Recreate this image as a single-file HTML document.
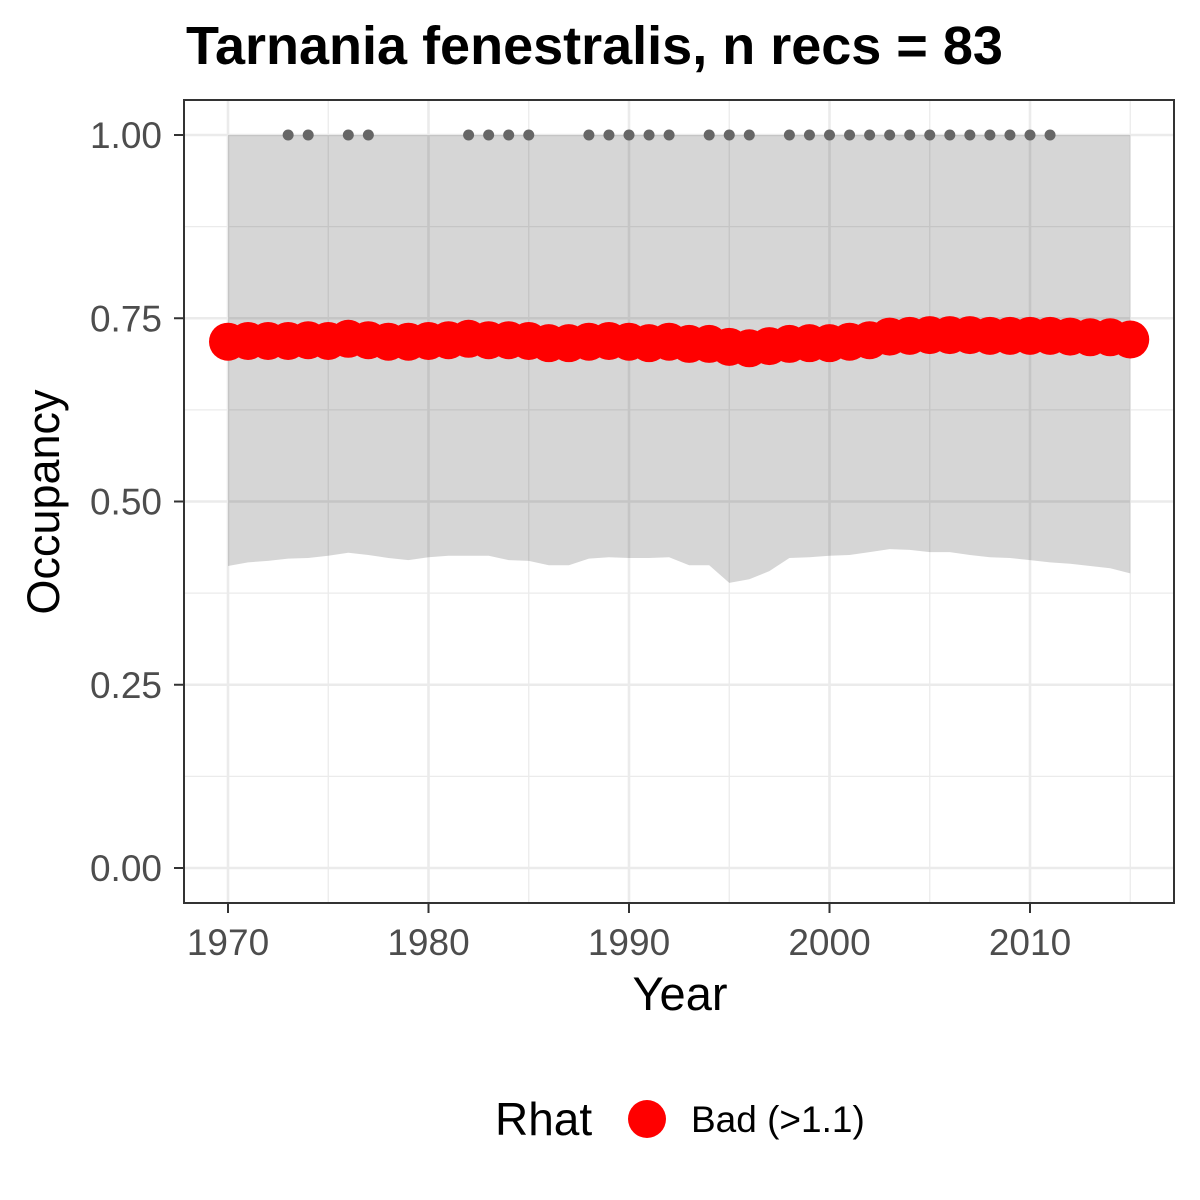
<!DOCTYPE html>
<html><head><meta charset="utf-8"><style>
html,body{margin:0;padding:0;background:#fff;width:1200px;height:1200px;overflow:hidden}
svg text{font-family:"Liberation Sans",Arial,sans-serif}
</style></head><body>
<svg id="chart" width="1200" height="1200" viewBox="0 0 1200 1200" xmlns="http://www.w3.org/2000/svg">
<defs><clipPath id="pc"><rect x="184" y="100" width="990" height="803"/></clipPath></defs>
<rect width="1200" height="1200" fill="#fff"/>
<text x="186" y="64" font-size="54" font-weight="bold" fill="#000">Tarnania fenestralis, n recs = 83</text>
<g id="grid" clip-path="url(#pc)"></g>
<g id="ribbon"></g>
<g id="recdots"></g>
<g id="points"></g>
<rect x="184" y="100" width="990" height="803" fill="none" stroke="#333" stroke-width="2"/>
<g id="axes"></g>
<text x="680" y="1010" font-size="47" text-anchor="middle" fill="#000">Year</text>
<text transform="translate(59,502) rotate(-90)" font-size="45" text-anchor="middle" fill="#000">Occupancy</text>
<g>
<text x="495" y="1135" font-size="46" fill="#000">Rhat</text>
<circle cx="647" cy="1119" r="19" fill="#ff0000"/>
<text x="691" y="1132" font-size="37" fill="#000">Bad (&gt;1.1)</text>
</g>
</svg>
<script>
const years = [1970,1971,1972,1973,1974,1975,1976,1977,1978,1979,1980,1981,1982,1983,1984,1985,1986,1987,1988,1989,1990,1991,1992,1993,1994,1995,1996,1997,1998,1999,2000,2001,2002,2003,2004,2005,2006,2007,2008,2009,2010,2011,2012,2013,2014,2015];
const occupancy = [0.718,0.719,0.719,0.719,0.720,0.719,0.722,0.720,0.718,0.718,0.719,0.720,0.722,0.720,0.720,0.719,0.716,0.716,0.718,0.719,0.718,0.716,0.718,0.715,0.715,0.711,0.709,0.712,0.715,0.716,0.716,0.718,0.720,0.725,0.726,0.727,0.727,0.727,0.726,0.726,0.726,0.726,0.725,0.724,0.724,0.721];
const lower = [0.412,0.417,0.419,0.422,0.423,0.426,0.430,0.427,0.423,0.420,0.424,0.426,0.426,0.426,0.420,0.419,0.413,0.413,0.422,0.424,0.423,0.423,0.424,0.413,0.413,0.389,0.394,0.405,0.423,0.424,0.426,0.427,0.431,0.435,0.434,0.431,0.431,0.427,0.424,0.423,0.420,0.417,0.415,0.412,0.409,0.402];
const upper = [1,1,1,1,1,1,1,1,1,1,1,1,1,1,1,1,1,1,1,1,1,1,1,1,1,1,1,1,1,1,1,1,1,1,1,1,1,1,1,1,1,1,1,1,1,1];
const recYears = [1973,1974,1976,1977,1982,1983,1984,1985,1988,1989,1990,1991,1992,1994,1995,1996,1998,1999,2000,2001,2002,2003,2004,2005,2006,2007,2008,2009,2010,2011];
const xTicks = [1970,1980,1990,2000,2010];
const yTicks = [0,0.25,0.5,0.75,1];
const yTickLabels = ["0.00","0.25","0.50","0.75","1.00"];

const NS="http://www.w3.org/2000/svg";
const X = y => 228 + (y-1970)*(1030-228)/40;
const Y = v => 868 - v*733;
function mk(tag, attrs, parent){const e=document.createElementNS(NS,tag);for(const k in attrs)e.setAttribute(k,attrs[k]);parent.appendChild(e);return e;}
const grid=document.getElementById('grid');
for(let yr=1965;yr<=2015;yr+=10){const l=mk('line',{x1:X(yr),x2:X(yr),y1:100,y2:903,stroke:'#ebebeb','stroke-width':1.3},grid);

}
for(let v=0.125;v<1.1;v+=0.25){const l=mk('line',{x1:184,x2:1174,y1:Y(v),y2:Y(v),stroke:'#ebebeb','stroke-width':1.3},grid);

}
xTicks.forEach(t=>{const l=mk('line',{x1:X(t),x2:X(t),y1:100,y2:903,stroke:'#ebebeb','stroke-width':2.6},grid);

});
yTicks.forEach(t=>{const l=mk('line',{x1:184,x2:1174,y1:Y(t),y2:Y(t),stroke:'#ebebeb','stroke-width':2.6},grid);

});
let d='M'+years.map((y,i)=>X(y)+','+Y(upper[i])).join(' L');
for(let i=years.length-1;i>=0;i--) d+=' L'+X(years[i])+','+Y(lower[i]);
d+=' Z';
const rib=mk('path',{d:d,fill:'#000','fill-opacity':0.16},document.getElementById('ribbon'));


const rd=document.getElementById('recdots');
recYears.forEach(y=>{const c=mk('circle',{cx:X(y),cy:Y(1),r:5.5,fill:'#666'},rd);

});
const pg=document.getElementById('points');
years.forEach((y,i)=>{const c=mk('circle',{cx:X(y),cy:Y(occupancy[i]),r:19,fill:'#ff0000'},pg);

});
const ax=document.getElementById('axes');
xTicks.forEach(t=>{const l=mk('line',{x1:X(t),x2:X(t),y1:903,y2:913,stroke:'#333','stroke-width':2},ax);


const tx=mk('text',{x:X(t),y:955,'font-size':37,'text-anchor':'middle',fill:'#4d4d4d'},ax);tx.textContent=t;

});
yTicks.forEach((t,i)=>{const l=mk('line',{x1:174,x2:184,y1:Y(t),y2:Y(t),stroke:'#333','stroke-width':2},ax);


const tx=mk('text',{x:162,y:Y(t)+13,'font-size':37,'text-anchor':'end',fill:'#4d4d4d'},ax);tx.textContent=yTickLabels[i];

});
</script>
</body></html>
